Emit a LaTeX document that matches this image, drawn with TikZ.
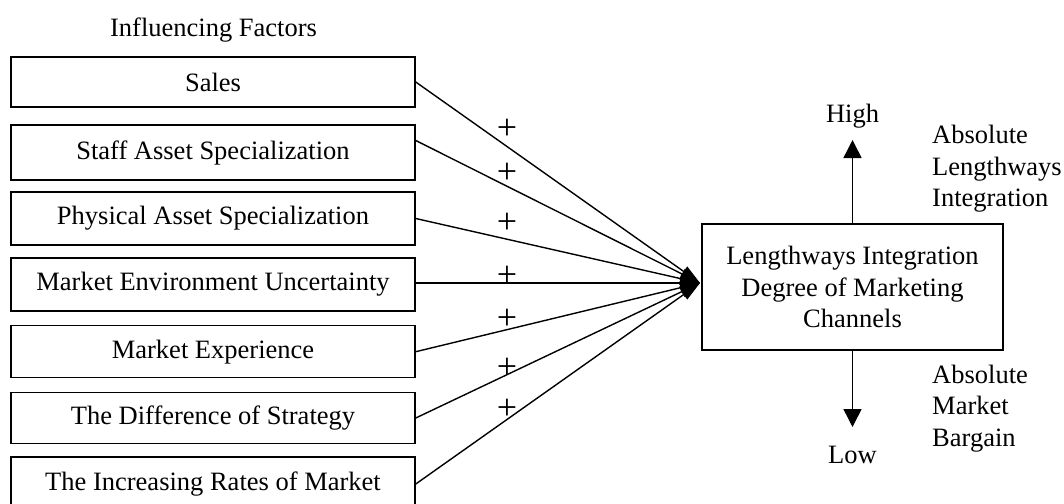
\documentclass[tikz,border=0pt]{standalone}
\usepackage{fontspec}
\setmainfont{Liberation Serif}
\usetikzlibrary{arrows.meta}
\begin{document}
\begin{tikzpicture}[x=1pt,y=-1pt,
  txt/.style={font=\fontsize{26.5}{31.5}\selectfont},
  lbl/.style={txt, inner sep=0pt},
  factor/.style={txt, draw, line width=1.5pt, minimum width=404pt,
    minimum height=#1, inner sep=0pt},
  link/.style={line width=1.4pt, -{Triangle[length=20pt,width=12pt]}},
  level/.style={line width=1.5pt, -{Triangle[length=18pt,width=18pt]}},
  sign/.style={font=\fontsize{36}{40}\selectfont, inner sep=0pt}]
\clip (0,0) rectangle (1064,503);

% factor column
\node[lbl, anchor=base] (head) at (213.5,37) {Influencing Factors};
\node[factor=50pt] (b1) at (213,82)    {Sales};
\node[factor=55pt] (b2) at (213,152.5) {Staff Asset Specialization};
\node[factor=53pt] (b3) at (213,218.5) {Physical Asset Specialization};
\node[factor=53pt] (b4) at (213,284.5) {Market Environment Uncertainty};
\node[factor=52pt] (b5) at (213,351.7) {Market Experience};
\node[factor=51pt] (b6) at (213,418)   {The Difference of Strategy};
\node[factor=54pt] (b7) at (213,484)   {The Increasing Rates of Market};

% integration degree
\node[txt, draw, line width=1.5pt, minimum width=301pt, minimum height=126pt,
  align=center, inner sep=0pt] (main) at (852.5,287)
  {Lengthways Integration\\Degree of Marketing\\Channels};
\coordinate (tip) at (700,283);

% influence links
\draw[link] (b1.east) -- (tip);
\draw[link] ([yshift=12pt]b2.east) -- (tip);
\draw[link] (b3.east) -- (tip);
\draw[link] ([yshift=1.5pt]b4.east) -- (tip);
\draw[link] (b5.east) -- (tip);
\draw[link] (b6.east) -- (tip);
\draw[link] (b7.east) -- (tip);

% signs of the links
\node[sign] (s1) at (507,129) {+};
\node[sign] (s2) at (507,173) {+};
\node[sign] (s3) at (507,223) {+};
\node[sign] (s4) at (507,276) {+};
\node[sign] (s5) at (507,319) {+};
\node[sign] (s6) at (507,368) {+};
\node[sign] (s7) at (507,409) {+};

% high / low scale
\coordinate (up) at (852.5,140);
\coordinate (down) at (852.5,427);
\draw[level] (main.north) -- (up);
\draw[level] (main.south) -- (down);
\node[lbl, anchor=base] (high) at (852.5,122) {High};
\node[lbl, anchor=base] (low) at (852.5,463) {Low};
\node[lbl, anchor=west, align=left] (absint) at (932,169)
  {Absolute\\Lengthways\\Integration};
\node[lbl, anchor=west, align=left] (absbar) at (932,408.5)
  {Absolute\\Market\\Bargain};
\end{tikzpicture}
\end{document}
